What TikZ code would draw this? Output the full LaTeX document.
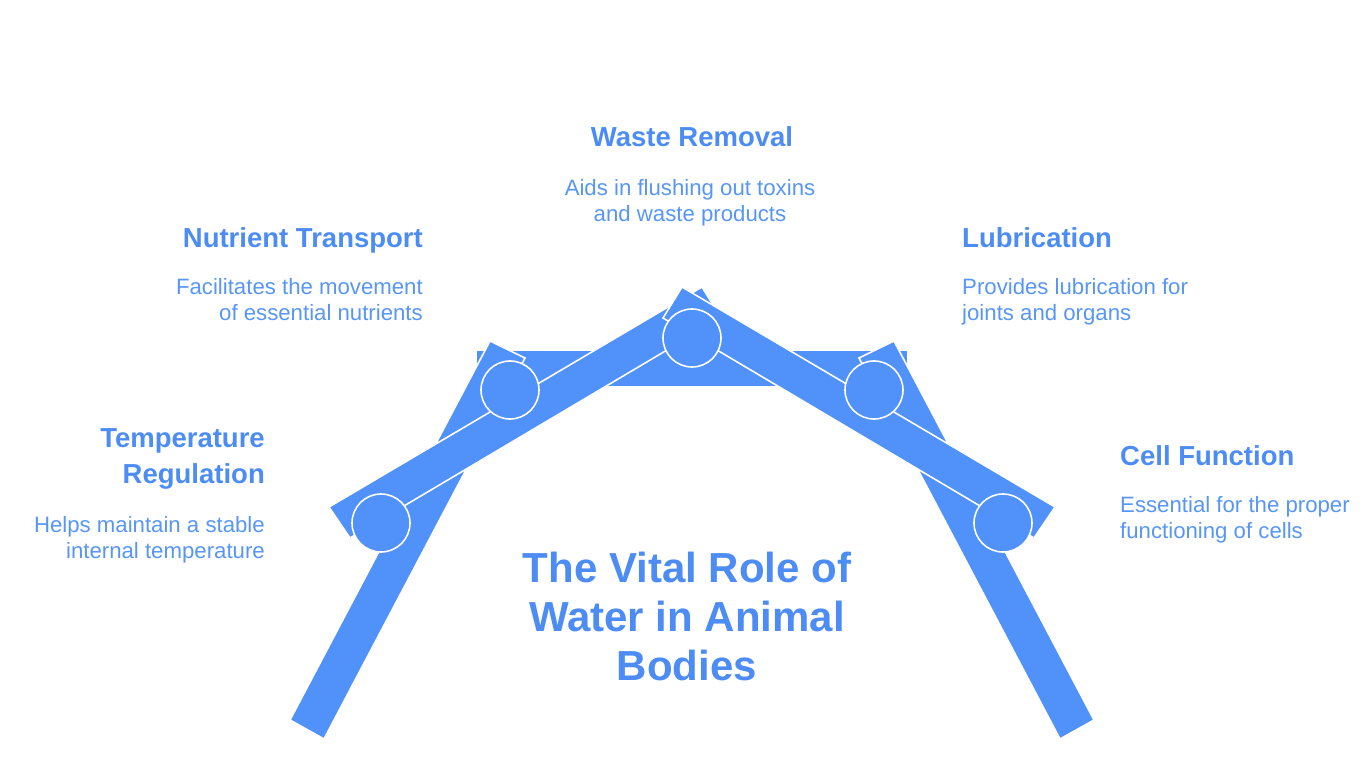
\documentclass[tikz,border=0pt]{standalone}
\usepackage{fontspec}
\setmainfont{Liberation Sans}
\definecolor{waterblue}{RGB}{80,145,250}
\definecolor{headblue}{RGB}{76,140,244}
\definecolor{textblue}{RGB}{88,150,246}
\begin{document}
\begin{tikzpicture}[x=1pt, y=-1pt,
  bar/.style={fill=waterblue, draw=white, line width=1.6pt},
  joint/.style={circle, fill=waterblue, draw=white, line width=1.6pt, minimum size=58pt, inner sep=0pt},
  heading/.style={font=\fontsize{27.5}{36}\selectfont\bfseries, text=headblue, inner sep=0pt},
  desc/.style={font=\fontsize{22.2}{26}\selectfont, text=textblue, inner sep=0pt},
  title/.style={font=\fontsize{42}{49}\selectfont\bfseries, text=headblue, inner sep=0pt, align=center}
]
\useasboundingbox (0,0) rectangle (1366,767);

% frame of the arch
\draw[bar] (476,350) rectangle (908,387);
\draw[bar] (490,341) -- (525,358) -- (324,739) -- (290,720) -- cycle;
\draw[bar] (894,341) -- (859,358) -- (1060,739) -- (1094,720) -- cycle;
\draw[bar] (329,507) -- (350,538) -- (721,318) -- (702,287) -- cycle;
\draw[bar] (1055,507) -- (1034,538) -- (663,318) -- (682,287) -- cycle;

% joints
\node[joint] (temp) at (381,523) {};
\node[joint] (nutr) at (510,390) {};
\node[joint] (waste) at (692,338) {};
\node[joint] (lubr) at (874,390) {};
\node[joint] (cell) at (1003,523) {};

% labels
\node[heading, align=center, anchor=north] (wasteh) at (692,126.3) {Waste Removal};
\node[desc, align=center, anchor=north] (wasted) at (690,179.1) {Aids in flushing out toxins\\and waste products};

\node[heading, align=right, anchor=north east] (nutrh) at (423,227.3) {Nutrient Transport};
\node[desc, align=right, anchor=north east] (nutrd) at (423,278.1) {Facilitates the movement\\of essential nutrients};

\node[heading, align=left, anchor=north west] (lubrh) at (962,227.3) {Lubrication};
\node[desc, align=left, anchor=north west] (lubrd) at (962,278.1) {Provides lubrication for\\joints and organs};

\node[heading, align=right, anchor=north east] (temph) at (265,428.3) {Temperature\\Regulation};
\node[desc, align=right, anchor=north east] (tempd) at (265,516.1) {Helps maintain a stable\\internal temperature};

\node[heading, align=left, anchor=north west] (cellh) at (1120,445.3) {Cell Function};
\node[desc, align=left, anchor=north west] (celld) at (1120,496.1) {Essential for the proper\\functioning of cells};

\node[title, anchor=north] (title) at (687,552) {The Vital Role of\\Water in Animal\\Bodies};
\end{tikzpicture}
\end{document}
